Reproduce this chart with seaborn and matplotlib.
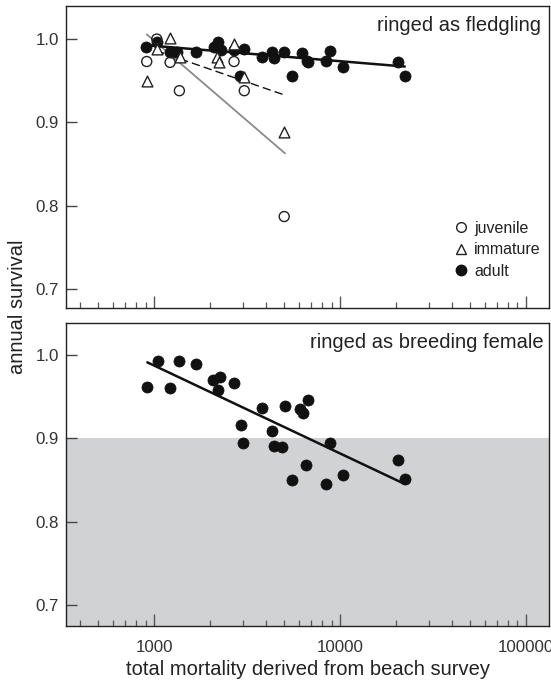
import numpy as np
import pandas as pd
import matplotlib
matplotlib.use("Agg")
import matplotlib.pyplot as plt
from matplotlib.ticker import FixedLocator, FuncFormatter, LogLocator, NullFormatter
from matplotlib.lines import Line2D
import seaborn as sns

# ---------------- data ----------------
# top panel: ringed as fledgling
juv_x = [1034, 913, 1219, 1368, 2692, 3056, 5010]
juv_y = [1.000, 0.973, 0.972, 0.938, 0.973, 0.938, 0.787]

imm_x = [1219, 1034, 913, 1379, 2172, 2245, 2692, 3056, 5010]
imm_y = [1.001, 0.988, 0.950, 0.978, 0.978, 0.972, 0.994, 0.954, 0.889]

adult_x = [906, 1034, 1219, 1324, 1683, 2109, 2214, 2291, 2692, 2897, 3056,
           3818, 4290, 4430, 4990, 5540, 6270, 6620, 6760, 8410, 8830,
           10420, 20400, 22300]
adult_y = [0.991, 0.996, 0.985, 0.985, 0.984, 0.990, 0.996, 0.987, 0.987,
           0.956, 0.988, 0.979, 0.984, 0.977, 0.985, 0.956, 0.983, 0.974,
           0.972, 0.974, 0.986, 0.966, 0.972, 0.956]

# fitted lines (end points in data units)
adult_fit_x = [906, 22300]
adult_fit_y = [0.9926, 0.967]
imm_fit_x = [1030, 5000]
imm_fit_y = [0.986, 0.933]
juv_fit_x = [913, 5060]
juv_fit_y = [1.0056, 0.8628]

# bottom panel: ringed as breeding female
fem_x = [920, 1055, 1219, 1368, 1674, 2068, 2265, 2214, 2692, 2925, 3020,
         3794, 4330, 4430, 4900, 5060, 5540, 6100, 6350, 6540, 6760, 8410,
         8830, 10420, 20400, 22300]
fem_y = [0.962, 0.993, 0.960, 0.993, 0.989, 0.970, 0.974, 0.958, 0.967,
         0.916, 0.895, 0.937, 0.909, 0.891, 0.890, 0.939, 0.850, 0.935,
         0.931, 0.868, 0.946, 0.845, 0.895, 0.856, 0.874, 0.851]
fem_fit_x = [920, 21900]
fem_fit_y = [0.9912, 0.846]

threshold = 0.9

yticks = [0.7, 0.8, 0.9, 1.0]
xticks = [1000, 10000, 100000]

top_title = "ringed as fledgling"
bottom_title = "ringed as breeding female"
xlabel = "total mortality derived from beach survey"
ylabel = "annual survival"
legend_labels = ["juvenile", "immature", "adult"]

# ---------------- style ----------------
sns.set_style("ticks")
plt.rcParams["font.family"] = ["Liberation Sans", "DejaVu Sans"]
plt.rcParams["axes.edgecolor"] = "#222222"
plt.rcParams["axes.linewidth"] = 1.0

W, H = 551, 681
fig = plt.figure(figsize=(W / 100, H / 100), dpi=100)

left = 66 / W
width = 483 / W
ax1 = fig.add_axes([left, 1 - 307.7 / H, width, 302 / H])
ax2 = fig.add_axes([left, 1 - 626 / H, width, 303 / H])

tick_color = "#333333"
for ax in (ax1, ax2):
    ax.set_xscale("log")
    ax.set_xlim(336, 133000)
    ax.xaxis.set_major_locator(FixedLocator(xticks))
    ax.xaxis.set_minor_locator(LogLocator(base=10, subs=np.arange(2, 10), numticks=20))
    ax.xaxis.set_minor_formatter(NullFormatter())
    ax.set_yticks(yticks)
    ax.yaxis.set_major_formatter(FuncFormatter(lambda v, p: f"{v:.1f}"))
    ax.tick_params(axis="x", which="major", direction="in", length=9, width=1,
                   color="#555555", labelsize=12.2, labelcolor=tick_color, pad=10)
    ax.tick_params(axis="x", which="minor", direction="in", length=4.5, width=0.9,
                   color="#555555")
    ax.tick_params(axis="y", which="major", direction="in", length=8, width=1,
                   color="#444444", labelsize=12.2, labelcolor=tick_color, pad=5)
    ax.tick_params(axis="y", which="minor", left=False)
    for s in ax.spines.values():
        s.set_visible(True)
        s.set_color("#222222")

ax1.set_ylim(0.6776, 1.04)
ax2.set_ylim(0.6748, 1.0384)
ax1.xaxis.set_major_formatter(NullFormatter())
ax2.xaxis.set_major_formatter(FuncFormatter(lambda v, p: f"{int(v)}"))

# ---------------- top panel ----------------
df_juv = pd.DataFrame({"x": juv_x, "y": juv_y})
df_imm = pd.DataFrame({"x": imm_x, "y": imm_y})
df_ad = pd.DataFrame({"x": adult_x, "y": adult_y})

sns.lineplot(x=juv_fit_x, y=juv_fit_y, ax=ax1, color="#8a8a8a", lw=1.3, zorder=2)
sns.lineplot(x=imm_fit_x, y=imm_fit_y, ax=ax1, color="#111111", lw=1.0,
             linestyle=(0, (6, 3)), zorder=2)

sns.scatterplot(data=df_ad, x="x", y="y", ax=ax1, marker="o", s=64,
                color="#111111", edgecolor="#111111", linewidth=0.5, zorder=3)
sns.lineplot(x=adult_fit_x, y=adult_fit_y, ax=ax1, color="#111111", lw=1.8, zorder=4)
sns.scatterplot(data=df_juv, x="x", y="y", ax=ax1, marker="o", s=52,
                facecolor="none", edgecolor="#222222", linewidth=1.0, zorder=5)
sns.scatterplot(data=df_imm, x="x", y="y", ax=ax1, marker="^", s=60,
                facecolor="white", edgecolor="#222222", linewidth=1.0, zorder=5)

ax1.text(0.983, 0.936, top_title, transform=ax1.transAxes, ha="right",
         va="center", fontsize=14.5, color="#222222")

handles = [
    Line2D([], [], ls="none", marker="o", ms=7, mfc="none", mec="#222222", mew=1.0),
    Line2D([], [], ls="none", marker="^", ms=7.5, mfc="none", mec="#222222", mew=1.0),
    Line2D([], [], ls="none", marker="o", ms=7.5, mfc="#111111", mec="#111111"),
]
ax1.legend(handles, legend_labels, loc="upper left",
           bbox_to_anchor=((455 - 66) / 483, 1 - (221 - 5.7) / 302),
           frameon=False, fontsize=11.5, handlelength=0.8, handletextpad=0.4,
           labelspacing=0.4, borderpad=0, borderaxespad=0, labelcolor="#222222")

ax1.set_xlabel("")
ax1.set_ylabel("")

# ---------------- bottom panel ----------------
ax2.axhspan(0.0, threshold, color="#d1d2d4", zorder=0, lw=0)
df_fem = pd.DataFrame({"x": fem_x, "y": fem_y})
sns.scatterplot(data=df_fem, x="x", y="y", ax=ax2, marker="o", s=64,
                color="#111111", edgecolor="#111111", linewidth=0.5, zorder=3)
sns.lineplot(x=fem_fit_x, y=fem_fit_y, ax=ax2, color="#111111", lw=1.8, zorder=4)
ax2.text(0.988, 0.934, bottom_title, transform=ax2.transAxes, ha="right",
         va="center", fontsize=14.5, color="#222222")
ax2.set_xlabel(xlabel, fontsize=14.5, color="#222222", labelpad=4)
ax2.set_ylabel("")

fig.text(18 / W, 1 - 307 / H, ylabel, rotation=90, ha="center", va="center",
         fontsize=14.5, color="#222222")

fig.savefig("out.png", dpi=100)
